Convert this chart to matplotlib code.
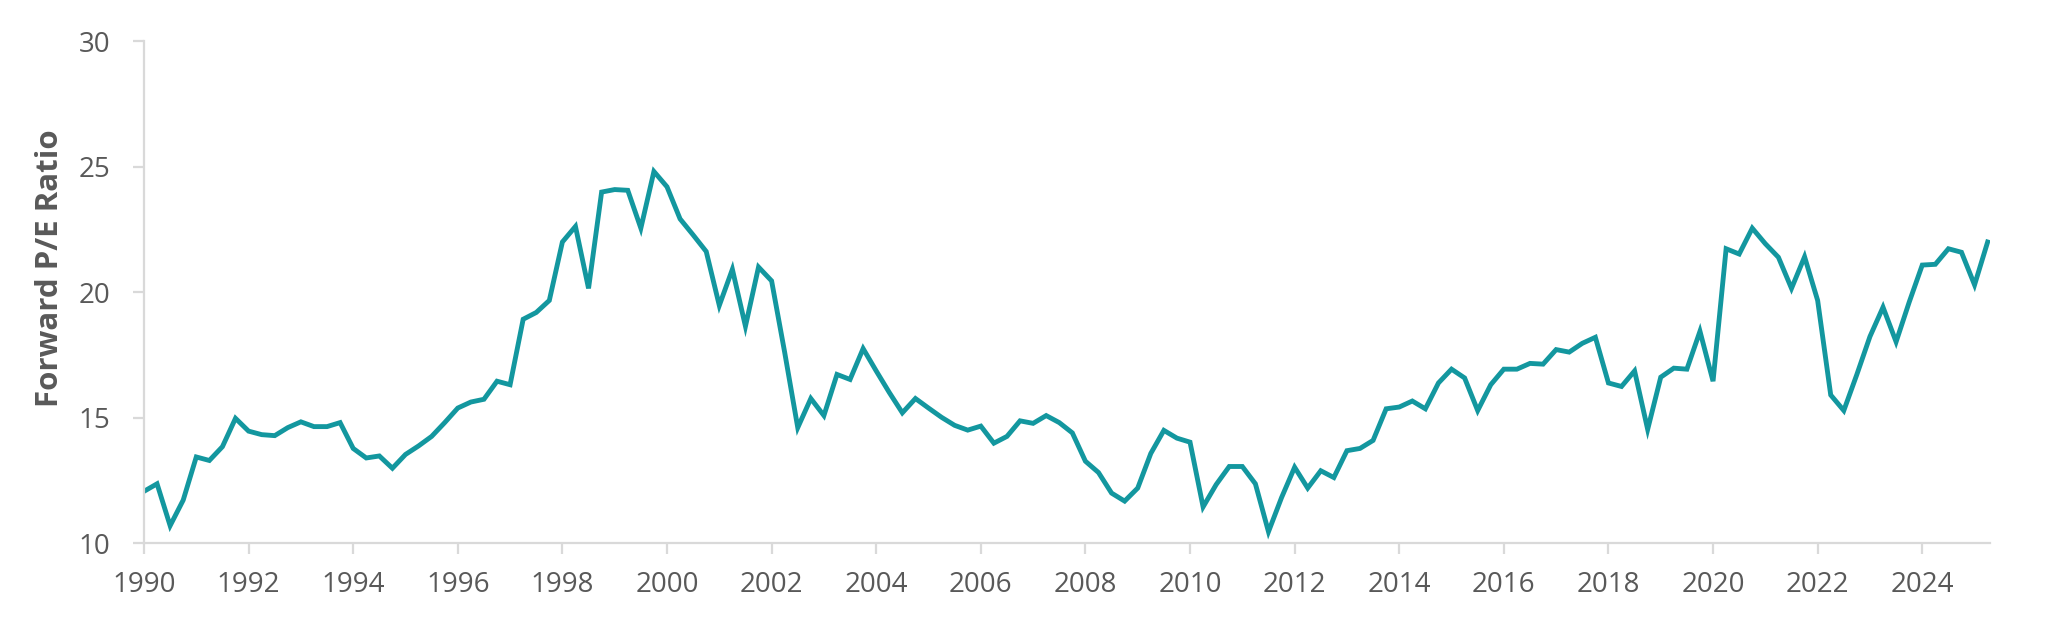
import matplotlib
matplotlib.use('Agg')
import matplotlib.pyplot as plt
import numpy as np

plt.rcParams['font.family'] = ['Open Sans', 'DejaVu Sans']

# quarterly forward P/E, 1990 Q1 .. 2025 Q2
start_year = 1990
pe_ratio = [
    12.06, 12.36, 10.69, 11.71, 13.43, 13.29, 13.84, 14.97,  # 1990-91
    14.46, 14.32, 14.28, 14.60, 14.83, 14.64, 14.64, 14.80,  # 1992-93
    13.77, 13.39, 13.47, 12.98, 13.53, 13.87, 14.25, 14.80,  # 1994-95
    15.38, 15.62, 15.73, 16.45, 16.31, 18.92, 19.19, 19.67,  # 1996-97
    22.00, 22.62, 20.15, 23.99, 24.09, 24.06, 22.55, 24.81,  # 1998-99
    24.20, 22.92, 22.28, 21.62, 19.47, 20.91, 18.64, 21.00,  # 2000-01
    20.45, 17.60, 14.60, 15.76, 15.08, 16.72, 16.52, 17.75,  # 2002-03
    16.86, 16.00, 15.19, 15.76, 15.38, 15.01, 14.69, 14.50,  # 2004-05
    14.66, 13.98, 14.25, 14.87, 14.77, 15.08, 14.80, 14.39,  # 2006-07
    13.26, 12.81, 11.99, 11.67, 12.19, 13.57, 14.49, 14.18,  # 2008-09
    14.02, 11.44, 12.33, 13.05, 13.05, 12.36, 10.45, 11.81,  # 2010-11
    13.02, 12.19, 12.88, 12.61, 13.68, 13.77, 14.09, 15.35,  # 2012-13
    15.42, 15.66, 15.35, 16.38, 16.93, 16.58, 15.28, 16.31,  # 2014-15
    16.93, 16.93, 17.16, 17.13, 17.71, 17.61, 17.96, 18.20,  # 2016-17
    16.38, 16.24, 16.86, 14.53, 16.61, 16.97, 16.93, 18.44,  # 2018-19
    16.45, 21.73, 21.52, 22.55, 21.93, 21.39, 20.15, 21.41,  # 2020-21
    19.67, 15.90, 15.28, 16.72, 18.23, 19.40, 18.02, 19.60,  # 2022-23
    21.08, 21.11, 21.73, 21.59, 20.29, 22.00,                # 2024-25
]
year_ticks = list(range(1990, 2025, 2))
pe_ticks = [10, 15, 20, 25, 30]

dates = start_year + np.arange(len(pe_ratio)) / 4.0

fig = plt.figure(figsize=(20.48, 6.24), dpi=100)
ax = fig.add_axes([0.0703, 0.1298, 0.9015, 0.804])

ax.plot(dates, pe_ratio, color='#13979f', linewidth=3.5, solid_joinstyle='miter')

ax.set_xlim(1990, dates[-1] + 0.05)
ax.set_ylim(10, 30)
ax.set_xticks(year_ticks)
ax.set_yticks(pe_ticks)

for s in ['top', 'right']:
    ax.spines[s].set_visible(False)
for s in ['left', 'bottom']:
    ax.spines[s].set_color('#d9d9d9')
    ax.spines[s].set_linewidth(1.6)

ax.tick_params(axis='both', colors='#d9d9d9', width=1.6, length=8,
               labelcolor='#595959', labelsize=20)
ax.tick_params(axis='y', pad=16)
ax.tick_params(axis='x', pad=12)

ax.set_ylabel('Forward P/E Ratio', fontsize=22.5, fontweight='bold',
              color='#595959')
ax.yaxis.set_label_coords(-0.043, 0.548)

fig.savefig('out.png', dpi=100)
